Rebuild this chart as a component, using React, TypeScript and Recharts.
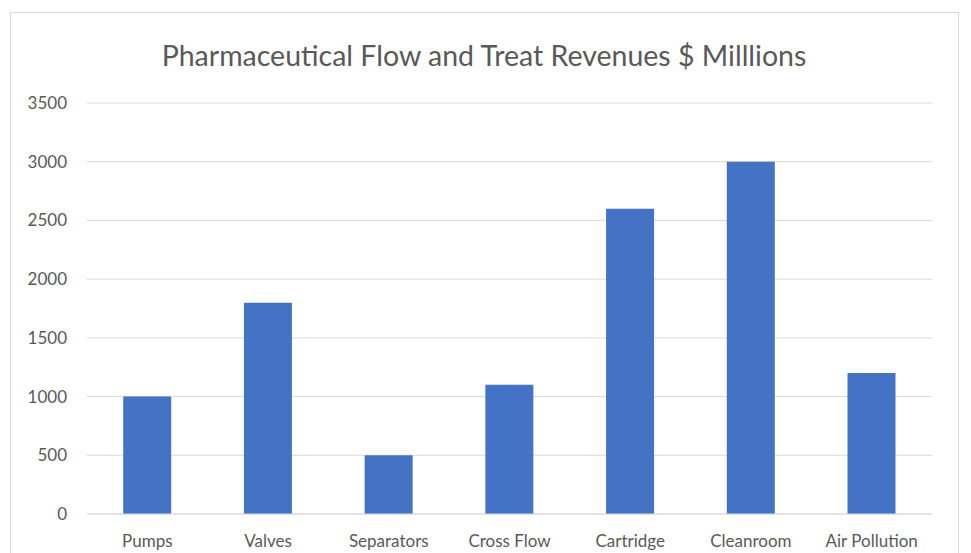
import { Bar, BarChart, CartesianGrid, XAxis, YAxis } from "recharts";

const categories = ["Pumps", "Valves", "Separators", "Cross Flow", "Cartridge", "Cleanroom", "Air Pollution"];
const revenues = [1000, 1800, 500, 1100, 2600, 3000, 1200];
const yTicks = [0, 500, 1000, 1500, 2000, 2500, 3000, 3500];

const data = categories.map((name, i) => ({ name, revenue: revenues[i] }));

const FONT = "Lato, 'Open Sans', sans-serif";

export default function App() {
  return (
    <div
      style={{
        position: "fixed",
        left: 0,
        top: 0,
        width: 971,
        height: 553,
        background: "#ffffff",
        overflow: "hidden",
        fontFamily: FONT,
      }}
    >
      <div
        style={{
          position: "absolute",
          left: 10,
          top: 12,
          width: 947,
          height: 600,
          border: "1px solid #d9d9d9",
        }}
      />
      <div
        style={{
          position: "absolute",
          left: 0,
          width: 968,
          top: 38,
          textAlign: "center",
          fontSize: 28.5,
          color: "#595959",
        }}
      >
        Pharmaceutical Flow and Treat Revenues $ Milllions
      </div>
      <div style={{ position: "absolute", left: 0, top: 0 }}>
        <BarChart
          width={971}
          height={553}
          data={data}
          margin={{ top: 103, right: 39, left: 27, bottom: 9 }}
          barCategoryGap="30%"
        >
          <CartesianGrid stroke="#d9d9d9" vertical={false} />
          <XAxis
            dataKey="name"
            height={30}
            axisLine={{ stroke: "#d9d9d9" }}
            tickLine={false}
            tickSize={0}
            tickMargin={21}
            tick={{ fill: "#595959", fontSize: 17, fontFamily: FONT }}
            interval={0}
          />
          <YAxis
            width={60}
            domain={[0, 3500]}
            ticks={yTicks}
            axisLine={false}
            tickLine={false}
            tickSize={0}
            tickMargin={20}
            tick={{ fill: "#595959", fontSize: 17, fontFamily: FONT }}
          />
          <Bar dataKey="revenue" fill="#4472c4" isAnimationActive={false} />
        </BarChart>
      </div>
    </div>
  );
}
